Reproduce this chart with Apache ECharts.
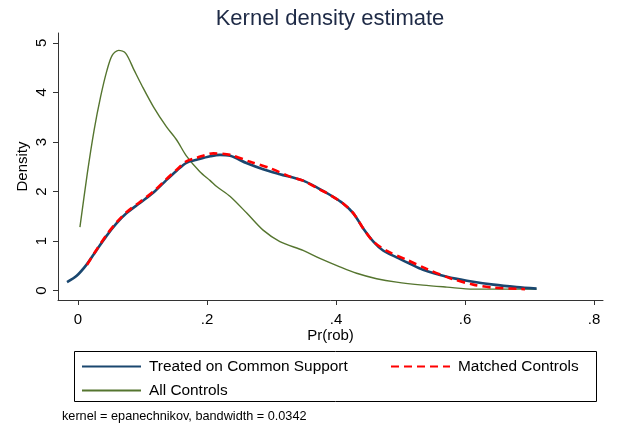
<!DOCTYPE html>
<html>
<head>
<meta charset="utf-8">
<script src="https://cdn.jsdelivr.net/npm/echarts@6/dist/echarts.min.js"></script>
<style>html,body{margin:0;padding:0;background:#fff;}#c{width:618px;height:430px;}</style>
</head>
<body>
<div id="c"></div>
<script>
// ---- data ----
const xTicks = [0, 0.2, 0.4, 0.6, 0.8];
const yTicks = [0, 1, 2, 3, 4, 5];

const treatedX = [-0.017, -0.002, 0.013, 0.029, 0.044, 0.060, 0.075, 0.096, 0.117, 0.137, 0.153, 0.168, 0.184, 0.205, 0.22, 0.236, 0.262, 0.287, 0.313, 0.349, 0.375, 0.391, 0.411, 0.427, 0.442, 0.458, 0.473, 0.494, 0.515, 0.535, 0.572, 0.603, 0.644, 0.68, 0.711];
const treatedY = [0.17, 0.30, 0.52, 0.82, 1.10, 1.36, 1.56, 1.77, 1.98, 2.23, 2.42, 2.58, 2.64, 2.71, 2.74, 2.72, 2.57, 2.45, 2.35, 2.22, 2.05, 1.93, 1.76, 1.56, 1.26, 0.99, 0.81, 0.67, 0.54, 0.42, 0.28, 0.20, 0.12, 0.07, 0.04];

const matchedX = [0.014, 0.029, 0.044, 0.060, 0.075, 0.096, 0.117, 0.137, 0.153, 0.168, 0.184, 0.21, 0.236, 0.267, 0.298, 0.329, 0.349, 0.375, 0.391, 0.411, 0.427, 0.442, 0.458, 0.479, 0.51, 0.54, 0.577, 0.613, 0.644, 0.693];
const matchedY = [0.52, 0.83, 1.12, 1.38, 1.58, 1.79, 2.00, 2.25, 2.44, 2.61, 2.68, 2.77, 2.74, 2.60, 2.47, 2.30, 2.22, 2.04, 1.93, 1.76, 1.56, 1.26, 0.99, 0.80, 0.62, 0.44, 0.25, 0.12, 0.06, 0.03];

const controlsX = [0.003, 0.0145, 0.025, 0.035, 0.045, 0.053, 0.063, 0.074, 0.087, 0.099, 0.117, 0.137, 0.153, 0.168, 0.189, 0.205, 0.215, 0.236, 0.262, 0.287, 0.313, 0.349, 0.375, 0.406, 0.432, 0.463, 0.494, 0.535, 0.572, 0.613, 0.665, 0.711];
const controlsY = [1.28, 2.37, 3.24, 3.91, 4.45, 4.75, 4.85, 4.79, 4.45, 4.14, 3.71, 3.31, 3.04, 2.72, 2.40, 2.22, 2.10, 1.90, 1.56, 1.22, 0.99, 0.81, 0.65, 0.48, 0.35, 0.24, 0.17, 0.11, 0.07, 0.03, 0.03, 0.03];

const seriesNames = ['Treated on Common Support', 'Matched Controls', 'All Controls'];
const titleText = 'Kernel density estimate';
const xTitle = 'Pr(rob)';
const yTitle = 'Density';
const noteText = 'kernel = epanechnikov, bandwidth = 0.0342';

const zip = (xs, ys) => xs.map((x, i) => [x, ys[i]]);
const FONT = '"Liberation Sans", Arial, sans-serif';
const legendText = {fontFamily: FONT, fontSize: 15.4, color: '#000', padding: [0, 0, 0, 3]};

const chart = echarts.init(document.getElementById('c'), null, {renderer: 'canvas'});
chart.setOption({
  animation: false,
  backgroundColor: '#fff',
  grid: {left: 58, right: 15, top: 33, bottom: 130, containLabel: false},
  xAxis: {
    type: 'value', min: -0.031, max: 0.814,
    name: xTitle, nameLocation: 'middle', nameGap: 28, nameMoveOverlap: false,
    nameTextStyle: {fontFamily: FONT, fontSize: 15, color: '#000'},
    axisLine: {show: true, onZero: false, lineStyle: {color: '#333', width: 1}},
    axisTick: {show: true, length: 5, customValues: xTicks, lineStyle: {color: '#333'}},
    axisLabel: {
      customValues: xTicks, margin: 12, fontFamily: FONT, fontSize: 15, color: '#000',
      formatter: v => (Math.abs(v) < 1e-9 ? '0' : String(+v.toFixed(2)).replace(/^0\./, '.'))
    },
    splitLine: {show: false}
  },
  yAxis: {
    type: 'value', min: -0.19, max: 5.2,
    name: yTitle, nameLocation: 'middle', nameGap: 28, nameRotate: 90, nameMoveOverlap: false,
    nameTextStyle: {fontFamily: FONT, fontSize: 15, color: '#000'},
    axisLine: {show: true, onZero: false, lineStyle: {color: '#333', width: 1}},
    axisTick: {show: true, length: 5, customValues: yTicks, lineStyle: {color: '#333'}},
    axisLabel: {
      customValues: yTicks, rotate: 90, margin: 9, fontFamily: FONT, fontSize: 15, color: '#000'
    },
    splitLine: {show: false}
  },
  legend: [
    {
      data: [seriesNames[0], seriesNames[2]], orient: 'vertical', left: 81, top: 359, padding: 0,
      itemWidth: 59, itemHeight: 14, itemGap: 9,
      itemStyle: {opacity: 0},
      textStyle: legendText
    },
    {
      data: [seriesNames[1]], orient: 'vertical', left: 390, top: 359, padding: 0,
      itemWidth: 59, itemHeight: 14, itemGap: 9,
      itemStyle: {opacity: 0},
      textStyle: legendText
    }
  ],
  graphic: [
    {type: 'text', x: 330, y: 19, style: {text: titleText, fontFamily: FONT, fontSize: 22, fill: '#1e2a46', align: 'center', verticalAlign: 'middle'}, silent: true},
    {type: 'rect', shape: {x: 74.5, y: 351.5, width: 522, height: 50}, style: {fill: 'none', stroke: '#000', lineWidth: 1}, silent: true},
    {type: 'text', x: 62, y: 416, style: {text: noteText, fontFamily: FONT, fontSize: 12.7, fill: '#000', verticalAlign: 'middle'}, silent: true}
  ],
  series: [
    {
      name: seriesNames[2], type: 'line', data: zip(controlsX, controlsY),
      smooth: 0.3, symbol: 'none', showSymbol: false,
      lineStyle: {color: '#55752f', width: 1.4}, itemStyle: {color: '#55752f'}, z: 2
    },
    {
      name: seriesNames[0], type: 'line', data: zip(treatedX, treatedY),
      smooth: 0.3, symbol: 'none', showSymbol: false,
      lineStyle: {color: '#1a476f', width: 2.6}, itemStyle: {color: '#1a476f'}, z: 3
    },
    {
      name: seriesNames[1], type: 'line', data: zip(matchedX, matchedY),
      smooth: 0.3, symbol: 'none', showSymbol: false,
      lineStyle: {color: '#ff0000', width: 2.6, type: [8, 5]}, itemStyle: {color: '#ff0000'}, z: 4
    }
  ]
});
</script>
</body>
</html>
